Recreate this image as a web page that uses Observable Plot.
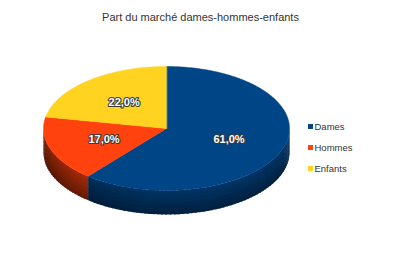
<!DOCTYPE html>
<html><head><meta charset="utf-8">
<script src="https://cdn.jsdelivr.net/npm/d3@7"></script>
<script src="https://cdn.jsdelivr.net/npm/@observablehq/plot@0.6"></script>
<style>body{margin:0;background:#fff}</style>
</head><body><div id="chart"></div>
<script>
const title = "Part du marché dames-hommes-enfants";
const categories = ["Dames", "Hommes", "Enfants"];
const values = [61, 17, 22];
const colors = ["#004586", "#ff420e", "#ffd320"];

const W = 400, H = 259;
const cx = 166, cy = 128, rx = 123, ry = 62, depth = 24, labelR = 0.54;
const slices = d3.pie().sort(null).value(d => d.value)(
  categories.map((c, i) => ({name: c, value: values[i], color: colors[i]}))
);
const P = (a, dy = 0, r = 1) => [cx + rx * r * Math.sin(a), cy - ry * r * Math.cos(a) + dy];
const step = Math.PI / 180;
function shade(color, a, t) {
  let k = 0.7;
  if (a > Math.PI) k = 0.7 - 0.3 * Math.pow((a - Math.PI) / (Math.PI / 2), 1.5);
  k *= 1.08 - 0.42 * t;
  return d3.interpolateRgb("#000", color)(Math.max(0, Math.min(1, k)));
}
const tops = [], sides = [], labels = [];
slices.forEach(s => {
  const n = Math.max(2, Math.ceil((s.endAngle - s.startAngle) / step));
  const pts = [[cx, cy]];
  for (let k = 0; k <= n; k++) pts.push(P(s.startAngle + (s.endAngle - s.startAngle) * k / n));
  pts.forEach(p => tops.push({key: s.data.name, x: p[0], y: p[1], fill: s.data.color}));
  const a0 = Math.max(s.startAngle, Math.PI / 2), a1 = Math.min(s.endAngle, 3 * Math.PI / 2);
  if (a1 > a0) {
    const m = Math.ceil((a1 - a0) / (2 * step)), bands = 6;
    for (let k = 0; k < m; k++) {
      const b0 = a0 + (a1 - a0) * k / m;
      const b1 = Math.min(a1, a0 + (a1 - a0) * (k + 1) / m + step * 0.8);
      for (let j = 0; j < bands; j++) {
        const d0 = depth * j / bands, d1 = Math.min(depth, depth * (j + 1) / bands + 0.8);
        const fill = shade(s.data.color, (b0 + b1) / 2, (j + 0.5) / bands);
        const key = s.data.name + "-" + k + "-" + j;
        [P(b0, d0), P(b1, d0), P(b1, d1), P(b0, d1)].forEach(p => sides.push({key, x: p[0], y: p[1], fill}));
      }
    }
  }
  const mid = (s.startAngle + s.endAngle) / 2;
  const lp = P(mid, 0, labelR);
  labels.push({x: lp[0], y: lp[1], text: s.data.value.toFixed(1).replace(".", ",") + "%"});
});

const plot = Plot.plot({
  width: W, height: H, margin: 0,
  x: {type: "identity", axis: null},
  y: {type: "identity", axis: null},
  color: {type: "identity"},
  style: {fontFamily: "'Liberation Sans', Arial, sans-serif", background: "#fff"},
  marks: [
    Plot.line(sides, {x: "x", y: "y", z: "key", fill: "fill", stroke: null, curve: "linear-closed"}),
    Plot.line(tops, {x: "x", y: "y", z: "key", fill: "fill", stroke: "fill", strokeWidth: 0.5, curve: "linear-closed"}),
    Plot.text(labels, {x: "x", y: "y", text: "text", fill: "white", stroke: "#3a3a3a", strokeWidth: 2.2, fontWeight: "bold", fontSize: 11}),
    Plot.text([title], {frameAnchor: "top", dy: 17, fontSize: 11, fill: "#333", lineAnchor: "middle"}),
    Plot.dot(categories, {x: 310, y: (d, i) => 126 + 21 * i, symbol: "square", r: 2.8, fill: (d, i) => colors[i], stroke: null}),
    Plot.text(categories, {x: 314, y: (d, i) => 126 + 21 * i, text: d => d, textAnchor: "start", fontSize: 9.5, fill: "#333"})
  ]
});
document.getElementById("chart").append(plot);
</script>
</body></html>
